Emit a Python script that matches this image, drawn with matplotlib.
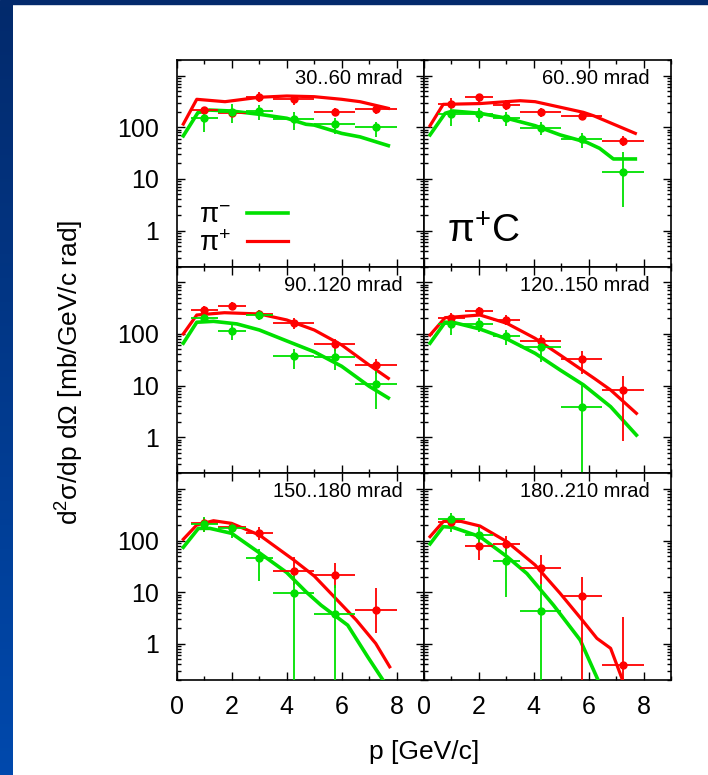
import numpy as np
import matplotlib
matplotlib.use('Agg')
import matplotlib.pyplot as plt
from matplotlib.colors import LinearSegmentedColormap
from matplotlib.patches import Rectangle
from matplotlib.ticker import MultipleLocator, FixedLocator, LogLocator, NullFormatter

plt.rcParams['font.family'] = ['Liberation Sans', 'DejaVu Sans']
plt.rcParams['mathtext.fontset'] = 'custom'
plt.rcParams['mathtext.rm'] = 'Liberation Sans'
plt.rcParams['mathtext.it'] = 'Liberation Sans:italic'
plt.rcParams['mathtext.default'] = 'regular'

# angular bins (one panel each)
angle_labels = ['30..60 mrad', '60..90 mrad', '90..120 mrad',
                '120..150 mrad', '150..180 mrad', '180..210 mrad']

# momentum bins of the data points [GeV/c]
bin_lo = [0.5, 1.5, 2.5, 3.5, 5.0, 6.5]
bin_hi = [1.5, 2.5, 3.5, 5.0, 6.5, 8.0]
bin_mid = [1.0, 2.0, 3.0, 4.25, 5.75, 7.25]

# pi+ data: value, lower and upper end of error bar
pip_val = [[215, 185, 390, 347, 194, 222],
           [287, 380, 269, 194, 167, 54],
           [290, 351, 240, 160, 63, 25],
           [206, 281, 186, 73, 32.7, 8.2],
           [220, 180, 138, 26, 21.5, 4.5],
           [232, 78, 86, 30, 8.4, 0.39]]
pip_lo = [[190, 165, 312, 270, 165, 180],
          [232, 312, 215, 160, 145, 43],
          [232, 290, 186, 125, 47, 17],
          [160, 232, 148, 52, 17, 0.85],
          [148, 138, 102, 14, 12, 1.6],
          [175, 42, 62, 14.5, 0.01, 0.01]]
pip_hi = [[245, 210, 474, 420, 235, 260],
          [362, 430, 330, 240, 210, 69],
          [351, 420, 290, 200, 80, 33],
          [250, 337, 232, 95, 47, 15],
          [270, 215, 180, 47, 36, 12],
          [290, 128, 125, 53, 20, 3.3]]

# pi- data
pim_val = [[149, 195, 206, 142, 114, 102],
           [178, 178, 153, 98, 59, 13.8],
           [206, 114, 232, 38, 36, 10.6],
           [153, 153, 92, 56.6, 3.9, None],
           [205, 172, 45, 9.5, 3.8, None],
           [257, 128, 41, 4.4, None, None]]
pim_lo = [[80, 119, 139, 88, 73, 65],
          [107, 128, 107, 71, 39, 2.8],
          [160, 76, 186, 21, 20, 3.5],
          [95, 110, 61, 28, 0.01, None],
          [148, 110, 16.4, 0.01, 0.01, None],
          [148, 82, 8.2, 0.01, None, None]]
pim_hi = [[232, 278, 270, 194, 149, 128],
          [287, 232, 198, 128, 76, 33.6],
          [250, 148, 290, 52, 52, 19],
          [232, 200, 119, 76, 10.3, None],
          [290, 215, 70, 27, 14, None],
          [335, 180, 82, 14.5, None, None]]

# model curves
pip_model_p = [[0.23, 0.72, 1.75, 3.0, 4.0, 5.0, 6.0, 6.67, 7.7],
               [0.22, 0.7, 2.04, 3.5, 4.05, 5.81, 6.2, 7.7],
               [0.23, 0.72, 1.73, 3.0, 4.0, 5.0, 6.0, 7.0, 7.7],
               [0.22, 0.77, 2.04, 3.02, 4.05, 4.96, 6.2, 6.8, 7.74],
               [0.23, 0.72, 1.33, 1.99, 3.0, 4.23, 5.0, 5.72, 6.53, 7.24, 7.75],
               [0.22, 0.7, 1.05, 2.04, 3.02, 4.05, 4.96, 5.81, 6.3, 6.8, 7.25]]
pip_model = [[115, 347, 312, 380, 402, 390, 347, 312, 232],
             [107, 277, 287, 326, 312, 194, 165, 76],
             [100, 232, 257, 243, 186, 119, 61, 25, 13.8],
             [95, 206, 232, 160, 82, 39, 13.8, 8.2, 2.9],
             [106, 200, 242, 215, 128, 43, 20.6, 8.2, 2.9, 1.02, 0.36],
             [119, 232, 257, 191, 95, 33.6, 9.5, 2.7, 1.28, 0.82, 0.19]]
pim_model_p = [[0.23, 0.76, 1.18, 1.97, 3.0, 4.0, 4.7, 5.0, 6.0, 6.67, 7.7],
               [0.22, 0.77, 1.05, 2.04, 3.02, 4.05, 4.96, 5.93, 6.4, 6.9, 7.7],
               [0.23, 0.72, 1.33, 2.18, 3.0, 4.0, 5.0, 6.0, 7.0, 7.7],
               [0.22, 0.77, 1.05, 2.04, 3.02, 4.05, 4.96, 5.81, 6.8, 7.74],
               [0.23, 0.78, 1.2, 1.99, 3.0, 4.0, 4.7, 5.25, 6.22, 6.95, 7.56],
               [0.22, 0.7, 1.05, 2.04, 3.02, 3.75, 4.72, 5.69, 6.36]]
pim_model = [[68, 191, 215, 206, 178, 149, 114, 110, 76, 65, 44],
             [71, 186, 206, 186, 149, 107, 71, 51, 39, 24.3, 24.3],
             [66, 168, 175, 156, 119, 73, 45, 23.6, 9.7, 5.75],
             [66, 168, 168, 124, 80, 42, 20, 10.3, 3.9, 1.1],
             [74, 172, 172, 138, 58, 24, 10.2, 5.6, 2.3, 0.56, 0.18],
             [86, 186, 180, 119, 49, 23, 5.6, 1.19, 0.19]]

RED = '#ff0000'
GREEN = '#00e000'


def arr(v):
    return np.array([np.nan if x is None else x for x in v], dtype=float)


fig = plt.figure(figsize=(7.08, 7.75), dpi=100)

# slide background: navy band on top, gradient strip on the left
fig.patches.append(Rectangle((0, 1 - 4 / 775), 1, 4 / 775, transform=fig.transFigure,
                             color='#032a6c', zorder=0))
bg = fig.add_axes([0, 0, 13 / 708, 1 - 4 / 775])
cmap = LinearSegmentedColormap.from_list('slide', ['#032a6c', '#0049ad'])
bg.imshow(np.linspace(0, 1, 256).reshape(-1, 1), aspect='auto', cmap=cmap)
bg.axis('off')

gs = fig.add_gridspec(3, 2, left=177 / 708, right=671 / 708, top=1 - 60 / 775,
                      bottom=1 - 680 / 775, hspace=0, wspace=0)

bx = np.array(bin_mid)
for i in range(6):
    r, c = divmod(i, 2)
    ax = fig.add_subplot(gs[r, c])
    ax.set_yscale('log')
    ax.set_xlim(0, 9)
    ax.set_ylim(0.2, 2000)

    lp, = ax.plot(pip_model_p[i], pip_model[i], color=RED, lw=2.3, zorder=3)
    lm, = ax.plot(pim_model_p[i], pim_model[i], color=GREEN, lw=2.6, zorder=3)

    for val, lo, hi, col in [(pip_val, pip_lo, pip_hi, RED), (pim_val, pim_lo, pim_hi, GREEN)]:
        v, l, h = arr(val[i]), arr(lo[i]), arr(hi[i])
        ax.errorbar(bx, v, xerr=[bx - np.array(bin_lo), np.array(bin_hi) - bx],
                    yerr=[v - l, h - v], fmt='o', color=col, ms=5, elinewidth=1.3,
                    capsize=0, zorder=4)

    ax.text(0.915, 0.884, angle_labels[i], transform=ax.transAxes, ha='right',
            va='baseline', fontsize=14.5)

    ax.xaxis.set_major_locator(MultipleLocator(2))
    ax.xaxis.set_minor_locator(MultipleLocator(1))
    ax.yaxis.set_major_locator(FixedLocator([1, 10, 100, 1000]))
    ax.yaxis.set_minor_locator(LogLocator(base=10, subs=np.arange(2, 10)))
    ax.yaxis.set_minor_formatter(NullFormatter())
    ax.set_yticklabels(['1', '10', '100', ''])
    ax.set_xticks([0, 2, 4, 6, 8])
    ax.set_xticklabels(['0', '2', '4', '6', '8'])
    ax.tick_params(which='both', direction='in', top=True, right=True, labelsize=18,
                   width=1.0)
    ax.tick_params(which='major', length=5.5)
    ax.tick_params(which='minor', length=3)
    ax.tick_params(axis='y', pad=13)
    ax.tick_params(axis='x', pad=11)
    if c == 1:
        ax.tick_params(labelleft=False)
    if r < 2:
        ax.tick_params(labelbottom=False)
    for s in ax.spines.values():
        s.set_linewidth(1.2)

    if i == 0:
        ax.legend([lm, lp], [r'$\pi^{-}$', r'$\pi^{+}$'], loc='lower left',
                  bbox_to_anchor=(0.01, -0.045), frameon=False, markerfirst=False,
                  fontsize=20, handlelength=1.45, handletextpad=0.6, labelspacing=0.05,
                  borderpad=0.2)
    if i == 1:
        ax.text(0.093, 0.116, r'$\pi^{+}$C', transform=ax.transAxes, ha='left',
                va='baseline', fontsize=28)

fig.text(70 / 708, 1 - 372 / 775, r'd$^{2}$σ/dp dΩ [mb/GeV/c rad]', rotation=90,
         ha='center', va='center', fontsize=19)
fig.text(424 / 708, 1 - 752 / 775, 'p [GeV/c]', ha='center', va='center', fontsize=19)

fig.savefig('out.png', dpi=100, facecolor='white')
